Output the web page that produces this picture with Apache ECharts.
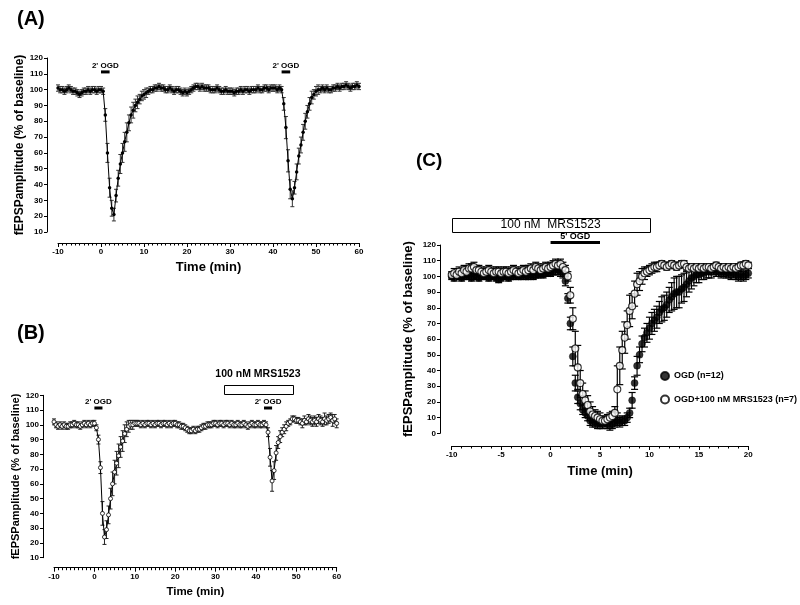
<!DOCTYPE html>
<html><head><meta charset="utf-8">
<script src="https://cdn.jsdelivr.net/npm/echarts@6/dist/echarts.min.js"></script>
<style>html,body{margin:0;padding:0;background:#fff}#c{width:800px;height:605px}</style>
</head><body><div id="c"></div>
<script>
// ---- Panel A: fEPSP amplitude (% of baseline), one sample every 0.5 min starting at -10 min
const aMean = [
 101,100,100,99,100,101,100,99,99,98,97,98,99,99,100,99,100,100,99,100,
 100,99,84,60,38,25,21,33,44,53,60,67,73,79,84,87,90,92,94,96,
 97,98,99,100,100,101,101,102,101,101,100,100,101,100,99,100,100,99,98,99,
 98,99,100,101,102,102,101,102,101,101,101,100,100,100,101,100,99,99,100,99,
 99,99,98,99,99,100,99,100,100,99,100,100,100,101,100,100,101,101,100,101,
 101,101,100,101,
 100,91,76,55,37,31,38,48,58,65,73,80,86,91,95,97,99,100,100,101,
 100,101,100,100,101,101,102,101,102,102,103,102,101,102,102,103,102];
const aSem = [
 2,2,2,2,2,2,2,2,2,2,2,2,2,2,2,2,2,2,2,2,
 2,2,4,6,6,5,4,4,5,6,6,6,6,5,5,5,4,4,3,3,
 3,3,2,2,2,2,2,2,2,2,2,2,2,2,2,2,2,2,2,2,
 2,2,2,2,2,2,2,2,2,2,2,2,2,2,2,2,2,2,2,2,
 2,2,2,2,2,2,2,2,2,2,2,2,2,2,2,2,2,2,2,2,
 2,2,2,2,
 2,4,7,7,6,5,4,5,5,5,5,5,4,4,4,3,3,3,2,2,
 2,2,2,2,2,2,2,2,2,2,2,2,2,2,2,2,2];
// ---- Panel B: same sampling
const bMean = [
 102,100,99,100,99,100,99,99,100,100,101,100,100,99,100,101,100,101,100,101,
 101,98,90,71,40,24,29,39,50,60,68,74,79,85,89,94,97,99,100,100,
 101,101,101,100,101,100,101,101,100,101,100,101,101,100,101,101,100,101,100,101,
 101,100,100,99,99,98,97,96,96,97,96,97,97,98,99,99,100,100,100,101,
 101,100,101,101,100,101,101,100,101,100,100,101,100,100,101,100,99,100,101,100,
 100,101,100,100,101,100,
 95,78,62,69,81,88,92,95,97,99,101,102,104,104,
 103,103,102,101,103,102,104,103,102,103,102,104,103,102,104,103,104,105,103,104,101];
const bSem = [
 2,2,2,2,2,2,2,2,2,2,2,2,2,2,2,2,2,2,2,2,
 2,2,3,4,8,5,6,6,7,8,8,8,8,7,7,6,5,4,3,3,
 2,2,2,2,2,2,2,2,2,2,2,2,2,2,2,2,2,2,2,2,
 2,2,2,2,2,2,2,2,2,2,2,2,2,2,2,2,2,2,2,2,
 2,2,2,2,2,2,2,2,2,2,2,2,2,2,2,2,2,2,2,2,
 2,2,2,2,2,2,
 3,6,7,6,5,4,4,3,3,3,2,2,2,2,
 2,2,2,3,3,2,3,3,3,3,3,3,3,3,4,3,3,3,4,3,3];
// ---- Panel C: one sample every 0.25 min starting at -10 min
const cOgdMean = [
 100,99,101,100,99,100,101,100,99,100,100,99,100,101,100,99,100,100,99,98,
 99,100,100,99,100,100,101,100,100,101,100,100,101,100,101,101,102,101,102,102,
 102,103,104,104,
 103,102,97,86,70,49,32,23,19,15, 13,11,8,7,7,6,6,6,7,6,
 5,6,7,8,7,8,8,10,13,21, 32,43,50,57,61,64,67,70,72,74,
 77,79,80,82,85,87,89,90,90,92, 93,95,97,99,100,101,101,102,102,103,
 103,103,104,103,103,102,103,102,102,101, 102,101,100,101,100,101,102];
const cOgdSem = [
 2,2,2,2,2,2,2,2,2,2,2,2,2,2,2,2,2,2,2,2,
 2,2,2,2,2,2,2,2,2,2,2,2,2,2,2,2,2,2,2,2,
 2,2,3,3,
 3,3,3,3,4,6,5,4,4,3, 3,3,3,3,3,3,3,3,3,3,
 3,3,3,3,3,3,3,3,3,5, 4,6,5,5,6,6,7,7,7,7,
 7,8,8,8,8,9,10,10,10,9, 9,8,7,7,6,5,5,4,4,4,
 4,4,3,3,3,3,3,3,3,3, 3,3,3,3,3,3,3];
const cMrsMean = [
 101,102,101,103,102,104,103,105,105,106,104,104,103,102,103,104,103,102,103,103,
 102,103,103,102,103,104,103,102,103,104,103,104,105,104,106,105,104,105,106,105,
 106,107,108,107,
 108,106,104,100,88,73,54,42,32,25, 21,18,14,12,11,10,9,8,8,9,
 10,11,13,28,43,53,61,69,78,81, 89,95,97,100,102,103,104,105,106,106,
 107,108,107,106,107,108,107,106,107,108, 108,106,105,106,105,106,105,106,105,106,
 106,105,106,107,106,105,106,105,106,105, 106,105,106,107,107,108,107];
const cMrsSem = [
 2,3,2,3,3,3,3,3,3,3,3,3,3,3,3,3,3,3,3,3,
 3,3,3,3,3,3,3,3,3,3,3,3,3,3,3,3,3,3,3,3,
 3,3,3,3,
 3,3,3,3,5,7,11,14,8,7, 6,6,6,5,4,4,4,3,3,3,
 3,3,4,15,12,12,10,9,10,8, 8,7,6,5,4,3,3,3,3,3,
 2,2,2,2,2,2,2,2,2,2, 2,2,2,2,2,2,2,2,2,2,
 2,2,2,2,2,2,2,2,2,2, 2,2,2,2,2,2,2];
// sampling grids (min)
const abStart = -10, abStep = 0.5, cStart = -10, cStep = 0.25;
// protocol periods (min): [start, end]
const ogdA = [[0, 2], [42, 44]];
const ogdB = [[0, 2], [42, 44]];
const drugB = [[32, 49]];
const ogdC = [[0, 5]];
const drugC = [[-10, 10]];
const legendNames = ['OGD (n=12)', 'OGD+100 nM MRS1523 (n=7)'];

const FF = '"Liberation Sans", Arial, Helvetica, sans-serif';
const times = (arr, s, st) => arr.map((_, i) => s + i * st);
const pts = (m, s, st) => { const t = times(m, s, st); return m.map((v, i) => [t[i], v]); };
const trip = (m, e, s, st) => { const t = times(m, s, st); return m.map((v, i) => [t[i], v, e[i]]); };

function errRender(cap, color, lw) {
  return function (p, api) {
    const x = api.value(0), y = api.value(1), e = api.value(2);
    const a = api.coord([x, y + e]), b = api.coord([x, y - e]);
    const h = cap / 2, st = { stroke: color, lineWidth: lw };
    return { type: 'group', children: [
      { type: 'line', shape: { x1: a[0], y1: a[1], x2: b[0], y2: b[1] }, style: st },
      { type: 'line', shape: { x1: a[0] - h, y1: a[1], x2: a[0] + h, y2: a[1] }, style: st },
      { type: 'line', shape: { x1: b[0] - h, y1: b[1], x2: b[0] + h, y2: b[1] }, style: st }
    ] };
  };
}
function txt(text, x, y, font) {
  return { type: 'text', style: { text, x, y, font, fill: '#000', align: 'center', verticalAlign: 'middle', textAlign: 'center', textVerticalAlign: 'middle' } };
}
function ogdRender(barV, textV, label, font, thick) {
  return function (p, api) {
    const s = api.value(0), e = api.value(1);
    const a = api.coord([s, barV]), b = api.coord([e, barV]), t = api.coord([(s + e) / 2, textV]);
    return { type: 'group', children: [
      { type: 'rect', shape: { x: a[0], y: a[1] - thick / 2, width: b[0] - a[0], height: thick }, style: { fill: '#000' } },
      txt(label, t[0], t[1], font)
    ] };
  };
}
function boxRender(topV, botV, textV, label, font) {
  return function (p, api) {
    const s = api.value(0), e = api.value(1);
    const a = api.coord([s, topV]), b = api.coord([e, botV]), t = api.coord([(s + e) / 2, textV]);
    return { type: 'group', children: [
      { type: 'rect', shape: { x: Math.round(a[0]) + 0.5, y: Math.round(a[1]) + 0.5, width: Math.round(b[0] - a[0]), height: Math.round(b[1] - a[1]) }, style: { fill: '#fff', stroke: '#000', lineWidth: 1 } },
      txt(label, t[0], t[1], font)
    ] };
  };
}
function yAx(gi, min, max, offset, nameSize, nameGap) {
  return { type: 'value', gridIndex: gi, min, max, interval: 10, offset, position: 'left',
    axisLine: { show: true, onZero: false, lineStyle: { color: '#000', width: 1 } },
    axisTick: { show: true, length: 3, lineStyle: { color: '#000' } },
    axisLabel: { fontSize: 8, fontWeight: 'bold', color: '#000', margin: 4, fontFamily: FF },
    splitLine: { show: false },
    name: 'fEPSPamplitude (% of baseline)', nameLocation: 'middle', nameRotate: 90, nameGap,
    nameTextStyle: { fontSize: nameSize, fontWeight: 'bold', color: '#000', fontFamily: FF } };
}
function xAx(gi, min, max, interval, minorSplit, offset, nameSize, nameGap) {
  return { type: 'value', gridIndex: gi, min, max, interval, offset, position: 'bottom',
    axisLine: { show: true, onZero: false, lineStyle: { color: '#000', width: 1 } },
    axisTick: { show: true, length: 4, lineStyle: { color: '#000' } },
    minorTick: { show: true, splitNumber: minorSplit, length: 2.5, lineStyle: { color: '#000' } },
    axisLabel: { fontSize: 8, fontWeight: 'bold', color: '#000', margin: 5, fontFamily: FF },
    splitLine: { show: false }, minorSplitLine: { show: false },
    name: 'Time (min)', nameLocation: 'middle', nameGap,
    nameTextStyle: { fontSize: nameSize, fontWeight: 'bold', color: '#000', fontFamily: FF } };
}

const option = {
  animation: false,
  backgroundColor: '#fff',
  grid: [
    { left: 58, top: 58, width: 301, height: 174, outerBoundsMode: 'none', containLabel: false },
    { left: 54, top: 395.3, width: 282.7, height: 162.4, outerBoundsMode: 'none', containLabel: false },
    { left: 451.7, top: 245, width: 296.6, height: 188.3, outerBoundsMode: 'none', containLabel: false }
  ],
  xAxis: [
    xAx(0, -10, 60, 10, 10, 11, 13, 18),
    xAx(1, -10, 60, 10, 10, 10, 11.5, 18),
    xAx(2, -10, 20, 5, 5, 12.7, 13, 19)
  ],
  yAxis: [
    yAx(0, 10, 120, 11, 12, 20),
    yAx(1, 10, 120, 11, 11, 20),
    yAx(2, 0, 120, 11.7, 13, 25)
  ],
  legend: {
    data: legendNames, orient: 'vertical', left: 655, top: 366, itemWidth: 8, itemHeight: 8, itemGap: 13.5,
    selectedMode: false, textStyle: { fontSize: 9, fontWeight: 'bold', color: '#000', fontFamily: FF }
  },
  graphic: [
    { type: 'text', x: 17, y: 19, style: { text: '(A)', font: 'bold 20px ' + FF, fill: '#000', align: 'left', verticalAlign: 'middle' } },
    { type: 'text', x: 17, y: 333, style: { text: '(B)', font: 'bold 20px ' + FF, fill: '#000', align: 'left', verticalAlign: 'middle' } },
    { type: 'text', x: 416, y: 161, style: { text: '(C)', font: 'bold 19px ' + FF, fill: '#000', align: 'left', verticalAlign: 'middle' } }
  ],
  series: [
    // Panel A
    { type: 'custom', xAxisIndex: 0, yAxisIndex: 0, renderItem: errRender(4, '#333', 1), data: trip(aMean, aSem, abStart, abStep), encode: { x: 0, y: 1 }, z: 2, silent: true },
    { type: 'line', xAxisIndex: 0, yAxisIndex: 0, data: pts(aMean, abStart, abStep), symbol: 'circle', symbolSize: 3.5, showSymbol: true,
      lineStyle: { color: '#000', width: 1 }, itemStyle: { color: '#000' }, z: 3, silent: true },
    { type: 'custom', xAxisIndex: 0, yAxisIndex: 0, renderItem: ogdRender(111.2, 115, "2' OGD", 'bold 8px ' + FF, 3), data: ogdA, clip: false, z: 5, silent: true },
    // Panel B
    { type: 'custom', xAxisIndex: 1, yAxisIndex: 1, renderItem: errRender(4, '#222', 1), data: trip(bMean, bSem, abStart, abStep), encode: { x: 0, y: 1 }, z: 2, silent: true },
    { type: 'line', xAxisIndex: 1, yAxisIndex: 1, data: pts(bMean, abStart, abStep), symbol: 'circle', symbolSize: 4, showSymbol: true,
      lineStyle: { color: '#000', width: 1 }, itemStyle: { color: '#fff', borderColor: '#000', borderWidth: 0.8 }, z: 3, silent: true },
    { type: 'custom', xAxisIndex: 1, yAxisIndex: 1, renderItem: ogdRender(111.4, 115.4, "2' OGD", 'bold 8px ' + FF, 3), data: ogdB, clip: false, z: 5, silent: true },
    { type: 'custom', xAxisIndex: 1, yAxisIndex: 1, renderItem: boxRender(127, 120.7, 134.5, '100 nM MRS1523', 'bold 10.5px ' + FF), data: drugB, clip: false, z: 5, silent: true },
    // Panel C
    { type: 'custom', xAxisIndex: 2, yAxisIndex: 2, renderItem: errRender(7, '#000', 1.2), data: trip(cOgdMean, cOgdSem, cStart, cStep), encode: { x: 0, y: 1 }, z: 2, silent: true },
    { type: 'scatter', name: legendNames[0], xAxisIndex: 2, yAxisIndex: 2, data: pts(cOgdMean, cStart, cStep), symbol: 'circle', symbolSize: 7,
      itemStyle: { color: '#000', borderColor: '#000', borderWidth: 0.5 }, z: 3, silent: true },
    { type: 'custom', xAxisIndex: 2, yAxisIndex: 2, renderItem: errRender(7, '#000', 1.2), data: trip(cMrsMean, cMrsSem, cStart, cStep), encode: { x: 0, y: 1 }, z: 4, silent: true },
    { type: 'scatter', name: legendNames[1], xAxisIndex: 2, yAxisIndex: 2, data: pts(cMrsMean, cStart, cStep), symbol: 'circle', symbolSize: 7,
      itemStyle: { color: '#fff', borderColor: '#000', borderWidth: 1.1 }, z: 5, silent: true },
    { type: 'custom', xAxisIndex: 2, yAxisIndex: 2, renderItem: ogdRender(121.6, 125.1, "5' OGD", 'bold 9px ' + FF, 3), data: ogdC, clip: false, z: 6, silent: true },
    { type: 'custom', xAxisIndex: 2, yAxisIndex: 2, renderItem: boxRender(137.1, 128.2, 132.7, '100 nM  MRS1523', '12px ' + FF), data: drugC, clip: false, z: 6, silent: true }
  ]
};
const chart = echarts.init(document.getElementById('c'), null, { renderer: 'canvas', width: 800, height: 605 });
chart.setOption(option);
</script>
</body></html>
